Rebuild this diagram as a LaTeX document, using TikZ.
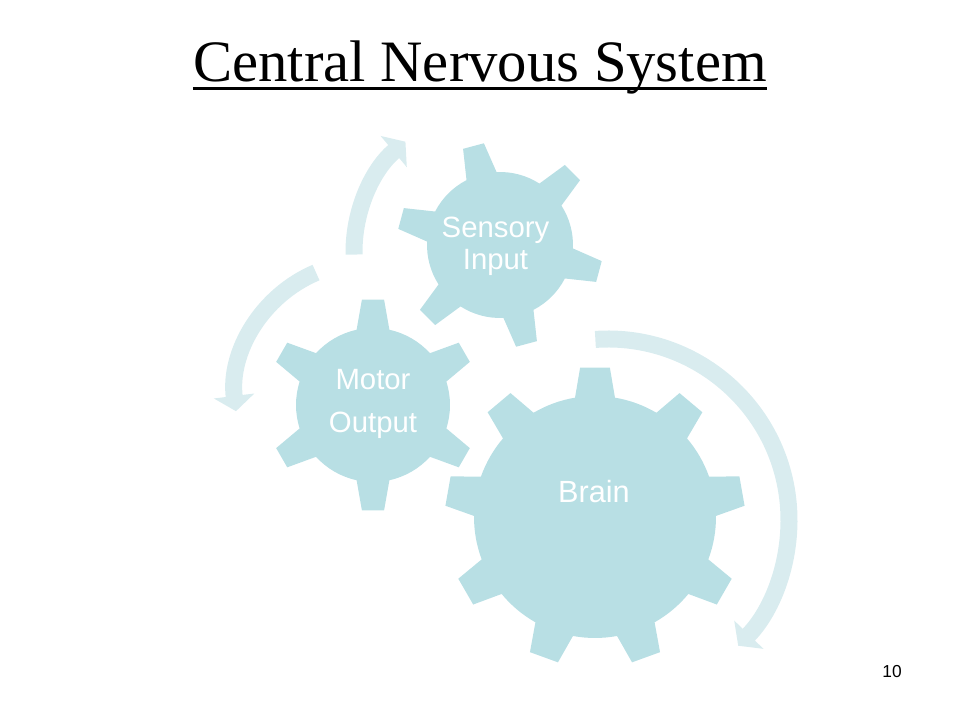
\documentclass[tikz,border=0pt]{standalone}
\usepackage{fontspec}
\setmainfont{Liberation Sans}
\newfontfamily\titlefont{Liberation Serif}
\usetikzlibrary{arrows.meta}

\definecolor{gearblue}{RGB}{184,223,228}
\definecolor{arcblue}{RGB}{217,236,239}

% gear: centre, inner r, outer r, teeth, first tooth angle, base half-angle, tip half-angle
\newcommand{\gear}[7]{%
  \fill[gearfill, shift={(#1)}] ({#5-#6}:#2)
    \foreach \k in {1,...,#4}{
      -- ({#5+(\k-1)*360/#4-#7}:#3) -- ({#5+(\k-1)*360/#4+#7}:#3)
      -- ({#5+(\k-1)*360/#4+#6}:#2)
      arc[start angle={#5+(\k-1)*360/#4+#6}, end angle={#5+\k*360/#4-#6}, radius=#2]
    } -- cycle;}

\begin{document}
\begin{tikzpicture}[x=0.75bp, y=0.75bp,
  gearfill/.style={fill=gearblue},
  turnarc/.style={draw=arcblue, line width=12.75bp, -{Triangle[width=30bp, length=11.5bp]}},
  gearlabel/.style={text=white, font=\fontsize{22bp}{26bp}\selectfont, inner sep=0pt, align=center}]
\useasboundingbox (0,0) rectangle (960,720);

% Title
\node[font=\titlefont\fontsize{44bp}{52bp}\selectfont, inner sep=0pt, anchor=base] (title) at (480,638) {Central Nervous System};
\draw[line width=2.25bp] ([yshift=-4.9bp]title.base west) -- ([yshift=-4.9bp]title.base east);

% Centres of the gears and of the turning arrows
\coordinate (brain) at (595,203);
\coordinate (motor) at (373,315);
\coordinate (sensory) at (500,475);
\coordinate (brainarc) at (608,200);
\coordinate (motorarc) at (368,325);
\coordinate (sensoryarc) at (498,468);

% Turning arrows
\draw[turnarc, shift={(brainarc)}] (94:181) arc[start angle=94, end angle=-44, radius=181];
\draw[turnarc, shift={(motorarc)}] (113:133) arc[start angle=113, end angle=187, radius=133];
\draw[turnarc, shift={(sensoryarc)}] (181:144) arc[start angle=181, end angle=130, radius=144];

% Gears
\gear{brain}{121}{150}{9}{90}{9.5}{5.7}
\gear{motor}{77}{106}{6}{30}{12.3}{6}
\gear{sensory}{73}{103}{6}{105}{12.3}{6}

% Labels
\node[gearlabel, font=\fontsize{23bp}{26bp}\selectfont, anchor=base] (brainlabel) at (594,217) {Brain};
\node[gearlabel, font=\fontsize{22bp}{32.25bp}\selectfont] (motorlabel) at (373,316) {Motor\\Output};
\node[gearlabel, font=\fontsize{22bp}{24bp}\selectfont] (sensorylabel) at (495.5,474) {Sensory\\Input};

% Slide number
\node[font=\fontsize{13bp}{15bp}\selectfont, anchor=base] (pagenum) at (892,43) {10};
\end{tikzpicture}
\end{document}
